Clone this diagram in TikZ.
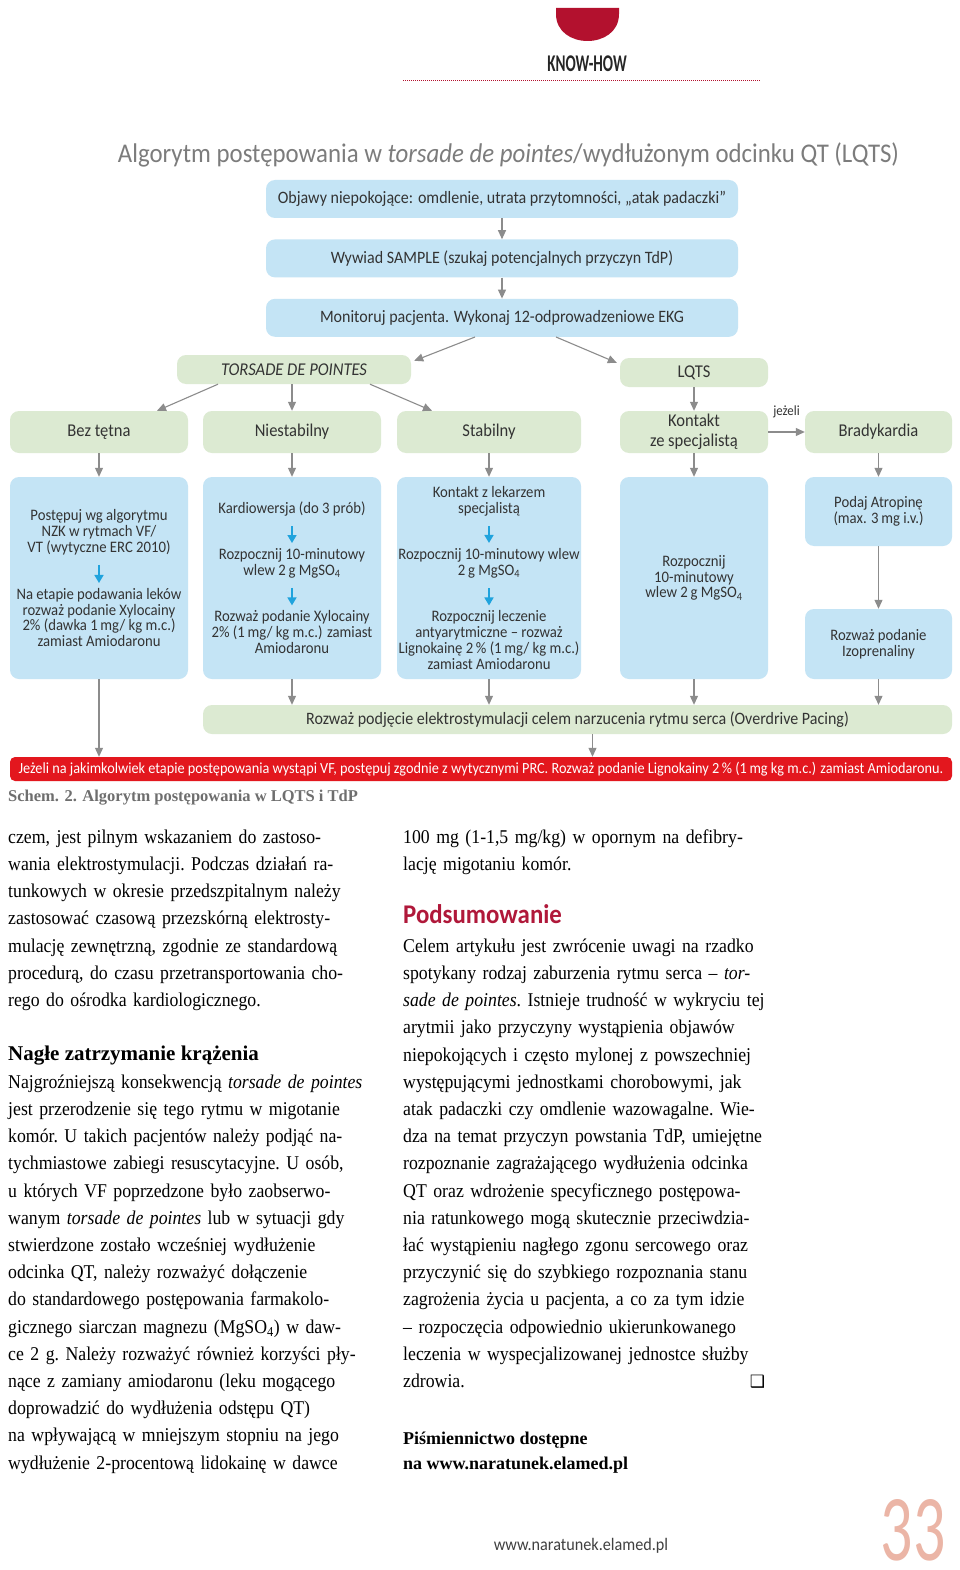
\documentclass[tikz,border=0pt]{standalone}
\usepackage{fontspec}
\setmainfont{Liberation Serif}
\newfontfamily\bodyserif[FakeStretch=0.91]{Liberation Serif}
\newfontfamily\dinfont[FakeStretch=0.92]{Carlito}
\newfontfamily\dinhead[FakeStretch=0.63]{Carlito}
\newfontfamily\numfont[FakeStretch=0.68]{Carlito}
\newfontfamily\symfont{DejaVu Sans}
\usepackage{xcolor}
\usetikzlibrary{arrows.meta,positioning}

\definecolor{boxblue}{HTML}{C4E4F5}
\definecolor{boxgreen}{HTML}{DCEAD2}
\definecolor{arrgray}{HTML}{8C8C8C}
\definecolor{arrcyan}{HTML}{1FA3DD}
\definecolor{alertred}{HTML}{E3171E}
\definecolor{darkred}{HTML}{B3112E}
\definecolor{titlegray}{HTML}{7C7C7C}
\definecolor{boxtext}{HTML}{333333}
\definecolor{pagenum}{HTML}{EBB5A6}
\definecolor{headred}{HTML}{B0183A}
\definecolor{capgray}{HTML}{6E6E6E}

\setlength{\parindent}{0pt}
\setlength{\parskip}{0pt}
\newlength{\colw}
\setlength{\colw}{362pt}
\newcommand{\boxfont}{\dinfont\fontsize{16}{15.8}\selectfont}
\newcommand{\bigboxfont}{\dinfont\fontsize{17.4}{17.4}\selectfont}
\newcommand{\rowfont}{\dinfont\fontsize{18}{19.5}\selectfont}
\newcommand{\bodyfont}{\bodyserif\fontsize{19.5}{27.2}\selectfont\frenchspacing}
\newcommand{\bodyline}[1]{\noindent\makebox[\colw][s]{\strut#1}\par}
\newcommand{\bodyend}[1]{\noindent\makebox[\colw][l]{\strut#1}\par}

\begin{document}
\begin{tikzpicture}[x=1pt,y=-1pt,>=Stealth]
\tikzset{
  blueb/.style={fill=boxblue,rounded corners=9pt,inner sep=0pt,text=boxtext,align=center,font=\boxfont},
  greenb/.style={fill=boxgreen,rounded corners=9pt,inner sep=0pt,text=boxtext,align=center,font=\boxfont},
  topbox/.style={blueb,minimum width=472pt,minimum height=38pt,font=\bigboxfont},
  rowbox/.style={greenb,minimum height=42pt,font=\rowfont},
  txt/.style={inner sep=0pt,text=boxtext,align=center,font=\boxfont},
  arr/.style={draw=arrgray,line width=1.1pt,-{Triangle[length=9pt,width=8pt]}},
  carr/.style={draw=arrcyan,line width=1.6pt,-{Triangle[length=8pt,width=9pt]},shorten <=10pt,shorten >=5pt},
  bodycol/.style={inner sep=0pt,text width=\colw,font=\bodyfont,anchor=north west}
}
\useasboundingbox (0,0) rectangle (960,1570);
\fill[white] (0,0) rectangle (960,1570);

% header
\fill[darkred] (556,8) -- (619,8) -- (619,14) .. controls (619,50) and (556,50) .. (556,14) -- cycle;
\node[font=\dinhead\bfseries\fontsize{24}{24}\selectfont,text=black!85] (know) at (587,64) {KNOW-HOW};
\draw[darkred,line width=1pt,dash pattern=on 1pt off 1pt] (403,81) -- (761,81);

\node[font=\dinfont\fontsize{27}{27}\selectfont,text=titlegray] (title) at (508.5,155)
  {Algorytm postępowania w \textit{torsade de pointes}/wydłużonym odcinku QT (LQTS)};

% top chain
\node[topbox] (objawy) at (502,199)
  {Objawy niepokojące: omdlenie, utrata przytomności, „atak padaczki”};
\node[topbox,below=21pt of objawy] (sample)
  {Wywiad SAMPLE (szukaj potencjalnych przyczyn TdP)};
\node[topbox,below=21pt of sample] (monitor)
  {Monitoruj pacjenta. Wykonaj 12-odprowadzeniowe EKG};
\draw[arr] (objawy) -- (sample);
\draw[arr] (sample) -- (monitor);

\node[greenb,minimum width=234pt,minimum height=29pt,font=\rowfont] (tdp) at (294,369.5) {\textit{TORSADE DE POINTES}};
\node[greenb,minimum width=148pt,minimum height=29pt,font=\rowfont] (lqts) at (694,372.5) {LQTS};
\draw[arr] ([xshift=-27pt]monitor.south) -- ([xshift=3pt,yshift=-6pt]tdp.north east);
\draw[arr] ([xshift=54pt]monitor.south) -- ([xshift=-3pt,yshift=-5pt]lqts.north west);

% second level
\node[rowbox,minimum width=178pt] (beztetna) at (99,432) {Bez tętna};
\node[rowbox,minimum width=178pt] (niestab) at (292,432) {Niestabilny};
\node[rowbox,minimum width=184pt] (stabil) at (489,432) {Stabilny};
\node[rowbox,minimum width=148pt] (kontakt) at (694,432) {Kontakt\\ze specjalistą};
\node[rowbox,minimum width=147pt] (bradyk) at (878.5,432) {Bradykardia};
\draw[arr] ([xshift=-76pt]tdp.south) -- ([xshift=58pt]beztetna.north);
\draw[arr] (tdp.south -| niestab) -- (niestab.north);
\draw[arr] ([xshift=76pt]tdp.south) -- ([xshift=-57pt]stabil.north);
\draw[arr] (lqts) -- (kontakt);
\draw[arr] (kontakt) -- node[above=14pt,inner sep=0pt,text=boxtext,font=\dinfont\fontsize{14}{14}\selectfont] (jezeli) {jeżeli} (bradyk);

% treatment boxes
\node[blueb,minimum width=178pt,minimum height=202pt] (boxA) at (99,578) {};
\node[blueb,minimum width=178pt,minimum height=202pt] (boxB) at (292,578) {};
\node[blueb,minimum width=184pt,minimum height=202pt] (boxC) at (489,578) {};
\node[blueb,minimum width=148pt,minimum height=202pt] (boxD) at (694,578)
  {Rozpocznij\\10-minutowy\\wlew 2\,g MgSO\textsubscript{4}};
\node[blueb,minimum width=147pt,minimum height=69pt] (atrop) at (878.5,511.5)
  {Podaj Atropinę\\(max. 3\,mg i.v.)};
\node[blueb,minimum width=147pt,minimum height=70pt] (izopr) at (878.5,644)
  {Rozważ podanie\\Izoprenaliny};
\draw[arr] (beztetna) -- (boxA);
\draw[arr] (niestab) -- (boxB);
\draw[arr] (stabil) -- (boxC);
\draw[arr] (kontakt) -- (boxD);
\draw[arr] (bradyk) -- (atrop);
\draw[arr] (atrop) -- (izopr);

\node[txt] (a1) at (99,532) {Postępuj wg algorytmu\\NZK w rytmach VF/\\VT (wytyczne ERC 2010)};
\node[txt] (a2) at (99,617.5) {Na etapie podawania leków\\rozważ podanie Xylocainy\\2\% (dawka 1\,mg/ kg m.c.)\\zamiast Amiodaronu};
\draw[carr] (a1) -- (a2);

\node[txt] (b1) at (292,509) {Kardiowersja (do 3 prób)};
\node[txt] (b2) at (292,563) {Rozpocznij 10-minutowy\\wlew 2\,g MgSO\textsubscript{4}};
\node[txt] (b3) at (292,632) {Rozważ podanie Xylocainy\\2\% (1\,mg/ kg m.c.) zamiast\\Amiodaronu};
\draw[carr] (b1) -- (b2);
\draw[carr] (b2) -- (b3);

\node[txt] (c1) at (489,501) {Kontakt z lekarzem\\specjalistą};
\node[txt] (c2) at (489,563) {Rozpocznij 10-minutowy wlew\\2\,g MgSO\textsubscript{4}};
\node[txt] (c3) at (489,640) {Rozpocznij leczenie\\antyarytmiczne – rozważ\\Lignokainę 2\,\% (1\,mg/ kg m.c.)\\zamiast Amiodaronu};
\draw[carr] (c1) -- (c2);
\draw[carr] (c2) -- (c3);

% pacing and alert
\node[greenb,minimum width=749pt,minimum height=29pt,font=\bigboxfont] (pacing) at (577.5,719.5)
  {Rozważ podjęcie elektrostymulacji celem narzucenia rytmu serca (Overdrive Pacing)};
\node[fill=alertred,rounded corners=5pt,inner sep=0pt,minimum width=942pt,minimum height=24pt,
  text=white,font=\dinfont\fontsize{15.5}{15.5}\selectfont] (alert) at (481,769)
  {Jeżeli na jakimkolwiek etapie postępowania wystąpi VF, postępuj zgodnie z wytycznymi PRC. Rozważ podanie Lignokainy 2\,\% (1\,mg kg m.c.) zamiast Amiodaronu.};
\draw[arr] (boxB) -- (boxB |- pacing.north);
\draw[arr] (boxC) -- (boxC |- pacing.north);
\draw[arr] (boxD) -- (boxD |- pacing.north);
\draw[arr] (izopr) -- (izopr |- pacing.north);
\draw[arr] (boxA) -- (boxA |- alert.north);
\draw[arr] ([xshift=15pt]pacing.south) -- ([xshift=15pt]pacing.south |- alert.north);

\node[anchor=base west,inner sep=0pt,text=capgray,font=\fontsize{16.5}{16.5}\selectfont\bfseries] (caption) at (8,801)
  {Schem. 2. Algorytm postępowania w LQTS i TdP};

% left column
\node[bodycol] (leftone) at (8,823.96) {%
\bodyline{czem, jest pilnym wskazaniem do zastoso-}
\bodyline{wania elektrostymulacji. Podczas działań ra-}
\bodyline{tunkowych w okresie przedszpitalnym należy}
\bodyline{zastosować czasową przezskórną elektrosty-}
\bodyline{mulację zewnętrzną, zgodnie ze standardową}
\bodyline{procedurą, do czasu przetransportowania cho-}
\bodyend{rego do ośrodka kardiologicznego.}};
\node[anchor=base west,inner sep=0pt,font=\fontsize{21}{21}\selectfont\bfseries] (nzk) at (8,1060)
  {Nagłe zatrzymanie krążenia};
\node[bodycol] (lefttwo) at (8,1068.96) {%
\bodyline{Najgroźniejszą konsekwencją \textit{torsade de pointes}}
\bodyline{jest przerodzenie się tego rytmu w migotanie}
\bodyline{komór. U takich pacjentów należy podjąć na-}
\bodyline{tychmiastowe zabiegi resuscytacyjne. U osób,}
\bodyline{u których VF poprzedzone było zaobserwo-}
\bodyline{wanym \textit{torsade de pointes} lub w sytuacji gdy}
\bodyline{stwierdzone zostało wcześniej wydłużenie}
\bodyline{odcinka QT, należy rozważyć dołączenie}
\bodyline{do standardowego postępowania farmakolo-}
\bodyline{gicznego siarczan magnezu (MgSO\textsubscript{4}) w daw-}
\bodyline{ce 2 g. Należy rozważyć również korzyści pły-}
\bodyline{nące z zamiany amiodaronu (leku mogącego}
\bodyline{doprowadzić do wydłużenia odstępu QT)}
\bodyline{na wpływającą w mniejszym stopniu na jego}
\bodyline{wydłużenie 2-procentową lidokainę w dawce}};

% right column
\node[bodycol] (rightone) at (403,823.96) {%
\bodyline{100 mg (1-1,5 mg/kg) w opornym na defibry-}
\bodyend{lację migotaniu komór.}};
\node[anchor=base west,inner sep=0pt,text=headred,font=\dinfont\fontsize{27}{27}\selectfont\bfseries] (podsum) at (403,923)
  {Podsumowanie};
\node[bodycol] (righttwo) at (403,932.96) {%
\bodyline{Celem artykułu jest zwrócenie uwagi na rzadko}
\bodyline{spotykany rodzaj zaburzenia rytmu serca – \textit{tor-}}
\bodyline{\textit{sade de pointes}. Istnieje trudność w wykryciu tej}
\bodyline{arytmii jako przyczyny wystąpienia objawów}
\bodyline{niepokojących i często mylonej z powszechniej}
\bodyline{występującymi jednostkami chorobowymi, jak}
\bodyline{atak padaczki czy omdlenie wazowagalne. Wie-}
\bodyline{dza na temat przyczyn powstania TdP, umiejętne}
\bodyline{rozpoznanie zagrażającego wydłużenia odcinka}
\bodyline{QT oraz wdrożenie specyficznego postępowa-}
\bodyline{nia ratunkowego mogą skutecznie przeciwdzia-}
\bodyline{łać wystąpieniu nagłego zgonu sercowego oraz}
\bodyline{przyczynić się do szybkiego rozpoznania stanu}
\bodyline{zagrożenia życia u pacjenta, a co za tym idzie}
\bodyline{– rozpoczęcia odpowiednio ukierunkowanego}
\bodyline{leczenia w wyspecjalizowanej jednostce służby}
\bodyline{zdrowia.\hfill{\symfont\fontsize{17}{17}\selectfont ❑}}};
\node[anchor=base west,inner sep=0pt,align=left,font=\fontsize{18}{25}\selectfont\bfseries] (refs) at (403,1469)
  {Piśmiennictwo dostępne\\na www.naratunek.elamed.pl};

% footer
\node[text=black!75,font=\dinfont\fontsize{17.6}{17.6}\selectfont] (www) at (581,1546) {www.naratunek.elamed.pl};
\node[inner sep=0pt,text=pagenum,font=\numfont\fontsize{94}{94}\selectfont] (pagenr) at (913,1530) {33};
\end{tikzpicture}
\end{document}
